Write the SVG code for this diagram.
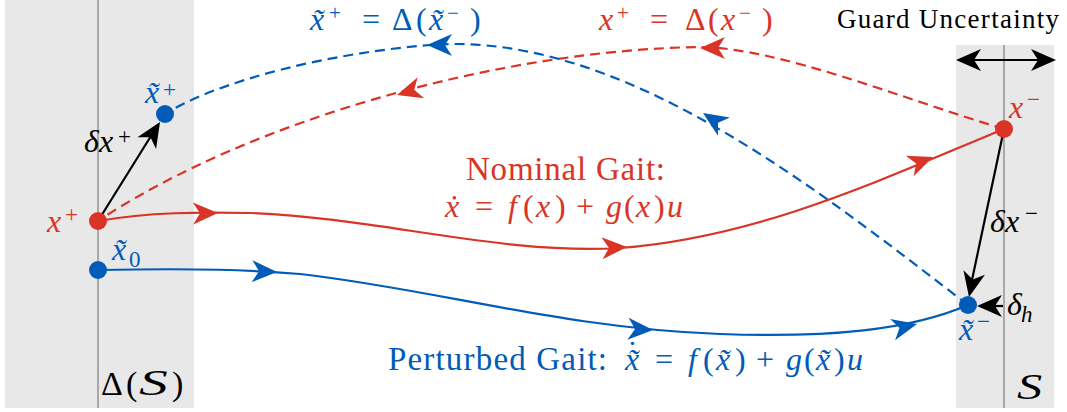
<svg xmlns="http://www.w3.org/2000/svg" xmlns:xlink="http://www.w3.org/1999/xlink" width="1067" height="412" viewBox="0 0 1067 412">
<style>
.band{fill:#e8e8e8}
.axis{stroke:#a8a8a8;stroke-width:2;fill:none}
.rf{fill:#d93425}
.bf{fill:#005cb8}
.kf{fill:#000}
.rs{stroke:#d93425;stroke-width:2.2;fill:none}
.bs{stroke:#005cb8;stroke-width:2.2;fill:none}
.dash{stroke-dasharray:10 6}
.blk{stroke:#000;stroke-width:2.2;fill:none}
text{font-family:"Liberation Serif","DejaVu Serif",serif;font-size:32px}
.i{font-style:italic}
.sup{font-size:23px}
.sup2{font-size:21px}
.f27{font-size:27px}
.f30{font-size:30px}
.f33{font-size:33px}
.f34{font-size:34px}
.f36{font-size:36px}
</style>
<defs>
<path id="ah" d="M0,0 L-25,-11 L-18,0 L-25,11 Z"/>
</defs>

<g id="bands">
<rect class="band" x="5" y="0" width="189" height="408"/>
<line class="axis" x1="98" y1="0" x2="98" y2="408"/>
<rect class="band" x="956" y="45" width="98" height="363"/>
<line class="axis" x1="1004" y1="45" x2="1004" y2="408"/>
</g>

<g id="connectors">
<path class="rs" d="M98,221 C150,212 200,212 250,213 C380,218 500,255 620,248 C760,237 880,180 1004,129"/>
<path class="bs" d="M98,270 C200,268 250,270 300,274 C440,290 560,328 720,334 C830,338 910,330 968,305"/>
<path class="rs dash" d="M1004,129 C900,98 780,48 700,47 C500,50 250,120 98,221"/>
<path class="bs dash" d="M968,305 C818,190 620,30 430,45 C330,53 220,80 165,114"/>
<use xlink:href="#ah" class="rf" transform="translate(218,213) rotate(-1)"/>
<use xlink:href="#ah" class="rf" transform="translate(627,247) rotate(-3)"/>
<use xlink:href="#ah" class="rf" transform="translate(933,157) rotate(-21)"/>
<use xlink:href="#ah" class="bf" transform="translate(277,272) rotate(2)"/>
<use xlink:href="#ah" class="bf" transform="translate(653,330) rotate(3)"/>
<use xlink:href="#ah" class="bf" transform="translate(917,324) rotate(-13)"/>
<use xlink:href="#ah" class="rf" transform="translate(397,95) rotate(163)"/>
<use xlink:href="#ah" class="rf" transform="translate(700,48) rotate(180)"/>
<use xlink:href="#ah" class="bf" transform="translate(427,45) rotate(180)"/>
<use xlink:href="#ah" class="bf" transform="translate(703,113) rotate(213)"/>
<line class="blk" x1="98" y1="221" x2="151" y2="136"/>
<use xlink:href="#ah" class="kf" transform="translate(160,122) rotate(-58)"/>
<line class="blk" x1="1004" y1="129" x2="972" y2="280"/>
<use xlink:href="#ah" class="kf" transform="translate(969,297) rotate(102)"/>
<line class="blk" x1="1003" y1="306" x2="992" y2="306"/>
<use xlink:href="#ah" class="kf" transform="translate(977,306) rotate(180)"/>
<line class="blk" x1="970" y1="60" x2="1042" y2="60"/>
<use xlink:href="#ah" class="kf" transform="translate(956,60) rotate(180)"/>
<use xlink:href="#ah" class="kf" transform="translate(1056,60) rotate(0)"/>
</g>

<g id="node-xplus">
<circle class="rf" cx="98" cy="221" r="9"/>
<text class="rf"><tspan class="i" x="47" y="232">x</tspan><tspan class="sup" x="65" y="222">+</tspan></text>
</g>
<g id="node-x0">
<circle class="bf" cx="98" cy="270" r="9"/>
<text class="bf"><tspan class="i" x="112" y="260">x&#x303;</tspan><tspan class="sup" x="129" y="267">0</tspan></text>
</g>
<g id="node-xtplus">
<circle class="bf" cx="165" cy="114" r="9"/>
<text class="bf"><tspan class="i" x="145" y="103">x&#x303;</tspan><tspan class="sup" x="163" y="97">+</tspan></text>
</g>
<g id="node-xminus">
<circle class="rf" cx="1004" cy="129" r="9"/>
<text class="rf"><tspan class="i" x="1009" y="118">x</tspan><tspan class="sup" x="1027" y="107">&#x2212;</tspan></text>
</g>
<g id="node-xtminus">
<circle class="bf" cx="968" cy="305" r="9"/>
<text class="bf"><tspan class="i" x="959" y="340">x&#x303;</tspan><tspan class="sup" x="977" y="329">&#x2212;</tspan></text>
</g>

<g id="labels">
<text class="kf"><tspan class="i" x="84" y="152">&#x3b4;x</tspan><tspan class="sup" x="118" y="144">+</tspan></text>
<text class="kf"><tspan class="i" x="990" y="232">&#x3b4;x</tspan><tspan class="sup" x="1025" y="221">&#x2212;</tspan></text>
<text class="kf"><tspan class="i" x="1007" y="315">&#x3b4;</tspan><tspan class="sup i" x="1021" y="322">h</tspan></text>
<text class="kf f34"><tspan x="101" y="395">&#x394;</tspan><tspan x="126" y="395">(</tspan><tspan x="172" y="395">)</tspan></text>
<text class="kf i f36" transform="translate(139,395) scale(1.6,1)">S</text>
<text class="kf i f36" transform="translate(1017,399) scale(1.4,1)">S</text>
<text class="kf f27" x="837" y="28" textLength="222" lengthAdjust="spacing">Guard Uncertainty</text>

<text class="bf"><tspan class="i" x="310" y="30">x&#x303;</tspan><tspan class="sup2" x="329" y="20">+</tspan><tspan x="362" y="30">=</tspan><tspan x="392" y="30">&#x394;</tspan><tspan x="416" y="30">(</tspan><tspan class="i" x="429" y="30">x&#x303;</tspan><tspan class="sup2" x="447" y="20">&#x2212;</tspan><tspan x="470" y="30">)</tspan></text>
<text class="rf"><tspan class="i" x="599" y="30">x</tspan><tspan class="sup2" x="617" y="20">+</tspan><tspan x="650" y="30">=</tspan><tspan x="685" y="30">&#x394;</tspan><tspan x="708" y="30">(</tspan><tspan class="i" x="721" y="30">x</tspan><tspan class="sup2" x="739" y="20">&#x2212;</tspan><tspan x="762" y="30">)</tspan></text>

<text class="rf f33" x="466" y="180" textLength="199" lengthAdjust="spacing">Nominal Gait:</text>
<text class="rf"><tspan class="i" x="445" y="217">&#x1e8b;</tspan><tspan x="475" y="217">=</tspan><tspan class="i" x="508" y="217">f</tspan><tspan x="523" y="217">(</tspan><tspan class="i" x="536" y="217">x</tspan><tspan x="555" y="217">)</tspan><tspan x="576" y="217">+</tspan><tspan class="i" x="606" y="217">g</tspan><tspan x="624" y="217">(</tspan><tspan class="i" x="636" y="217">x</tspan><tspan x="654" y="217">)</tspan><tspan class="i" x="667" y="217">u</tspan></text>

<text class="bf f33" x="388" y="370" textLength="219" lengthAdjust="spacing">Perturbed Gait:</text>
<text class="bf"><tspan x="627" y="363">&#x2d9;</tspan><tspan class="i" x="625" y="370">x&#x303;</tspan><tspan x="655" y="370">=</tspan><tspan class="i" x="688" y="370">f</tspan><tspan x="703" y="370">(</tspan><tspan class="i" x="716" y="370">x&#x303;</tspan><tspan x="735" y="370">)</tspan><tspan x="756" y="370">+</tspan><tspan class="i" x="786" y="370">g</tspan><tspan x="804" y="370">(</tspan><tspan class="i" x="816" y="370">x&#x303;</tspan><tspan x="834" y="370">)</tspan><tspan class="i" x="847" y="370">u</tspan></text>
</g>
</svg>
